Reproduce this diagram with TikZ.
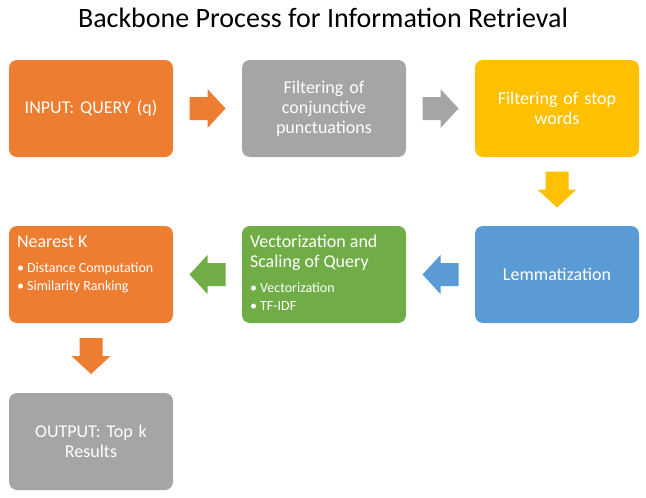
\documentclass[tikz,border=0pt]{standalone}
\usepackage{fontspec}
\setmainfont{Carlito}
\usetikzlibrary{calc}
\definecolor{corange}{HTML}{ED7D31}
\definecolor{cgray}{HTML}{A5A5A5}
\definecolor{cgold}{HTML}{FFC000}
\definecolor{cblue}{HTML}{5B9BD5}
\definecolor{cgreen}{HTML}{70AD47}
\tikzset{
  box/.style={minimum width=164pt, minimum height=97pt, rounded corners=8pt, inner sep=0pt, text=white, align=center, text width=156pt, font=\fontsize{18}{20}\selectfont},
  inner/.style={anchor=base west, inner sep=0pt, text=white, font=\fontsize{18}{20}\selectfont},
  bul/.style={anchor=base west, inner sep=0pt, text=white, font=\fontsize{14}{18}\selectfont},
}
\newcommand\myarrow[3]{\fill[#2, shift={(#1)}, rotate=#3] (-18,11.5) -- (0,11.5) -- (0,19.5) -- (18,0) -- (0,-19.5) -- (0,-11.5) -- (-18,-11.5) -- cycle;}
\begin{document}
\begin{tikzpicture}[x=1pt,y=1pt]
\useasboundingbox (0,0) rectangle (646,-498);
\node[font=\fontsize{28}{32}\selectfont, anchor=base] (title) at (323,-27) {Backbone Process for Information Retrieval};
\node[box, fill=corange] (in) at (91,-108.5) {INPUT: QUERY (q)};
\node[box, fill=cgray] (filt) at (324,-108.5) {Filtering of\\conjunctive\\punctuations};
\node[box, fill=cgold] (stop) at (557,-108.5) {Filtering of stop\\words};
\node[box, fill=cblue] (lem) at (557,-274.5) {Lemmatization};
\node[box, fill=cgreen] (vec) at (324,-274.5) {};
\node[box, fill=corange] (near) at (91,-274.5) {};
\node[box, fill=cgray] (out) at (91,-441.5) {OUTPUT: Top k\\Results};
% text in left-aligned boxes
\node[inner] (nk) at ($(near.north west)+(8,-22)$) {Nearest K};
\node[bul] (nkb1) at ($(near.north west)+(8,-47)$) {• Distance Computation};
\node[bul] (nkb2) at ($(near.north west)+(8,-65)$) {• Similarity Ranking};
\node[inner] (vs1) at ($(vec.north west)+(8,-22)$) {Vectorization and};
\node[inner] (vs2) at ($(vec.north west)+(8,-42)$) {Scaling of Query};
\node[bul] (vsb1) at ($(vec.north west)+(8,-67)$) {• Vectorization};
\node[bul] (vsb2) at ($(vec.north west)+(8,-85)$) {• TF-IDF};
% arrows
\coordinate (m1) at ($(in.east)!0.5!(filt.west)$);
\coordinate (m2) at ($(filt.east)!0.5!(stop.west)$);
\coordinate (m3) at ($(stop.south)!0.5!(lem.north)+(0,2)$);
\coordinate (m4) at ($(lem.west)!0.5!(vec.east)$);
\coordinate (m5) at ($(vec.west)!0.5!(near.east)$);
\coordinate (m6) at ($(near.south)!0.5!(out.north)+(0,2)$);
\myarrow{m1}{corange}{0}
\myarrow{m2}{cgray}{0}
\myarrow{m3}{cgold}{-90}
\myarrow{m4}{cblue}{180}
\myarrow{m5}{cgreen}{180}
\myarrow{m6}{corange}{-90}
\end{tikzpicture}
\end{document}
